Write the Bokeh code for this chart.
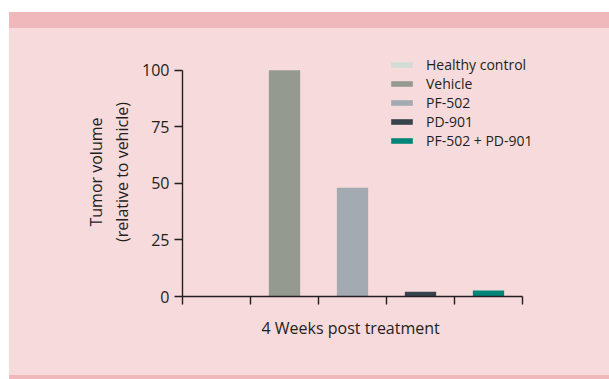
from bokeh.plotting import figure
from bokeh.models import ColumnDataSource, FixedTicker, Div, Title
from bokeh.layouts import column
from bokeh.embed import file_html
from bokeh.resources import INLINE

groups = ["Healthy control", "Vehicle", "PF-502", "PD-901", "PF-502 + PD-901"]
values = [0, 100, 48, 2.1, 2.6]
colors = ["#d3dbd6", "#959a90", "#a3aab1", "#37444c", "#008577"]
y_ticks = [0, 25, 50, 75, 100]
x_label = "4 Weeks post treatment"
y_label = "Tumor volume\n(relative to vehicle)"

BG = "#f7dadc"
BAND = "#f0b8bb"
INK = "#231f20"
FONT = "Open Sans"

header = Div(text="", width=600, height=16, margin=0, styles={"background-color": BAND})
footer = Div(text="", width=600, height=4, margin=0, styles={"background-color": BAND})

src = ColumnDataSource(dict(x=[i + 0.5 for i in range(len(groups))], top=values,
                            color=colors, group=groups))

n = len(groups)
p = figure(width=600, height=347, x_range=(0, n + 0.5), y_range=(0, 110),
           output_backend="svg", toolbar_location=None, margin=0,
           min_border_left=173, min_border_right=53, min_border_top=19, min_border_bottom=79,
           background_fill_color=None, border_fill_color=None, outline_line_color=None,
           styles={"background-color": BG})
p.grid.visible = False
p.vbar(x="x", top="top", width=0.46, bottom=0, color="color", line_color=None,
       source=src, legend_field="group")

for ax in (p.xaxis[0], p.yaxis[0]):
    ax.axis_line_color = INK
    ax.axis_line_width = 1.4
    ax.major_tick_line_color = INK
    ax.major_tick_line_width = 1.4
    ax.major_tick_out = 8
    ax.major_tick_in = 0
    ax.minor_tick_out = 0
    ax.minor_tick_in = 0
    ax.major_label_text_font = FONT
    ax.major_label_text_font_size = "16px"
    ax.major_label_text_color = INK
    ax.axis_label_text_font = FONT
    ax.axis_label_text_font_size = "16px"
    ax.axis_label_text_font_style = "normal"
    ax.axis_label_text_color = INK

p.xaxis.ticker = FixedTicker(ticks=list(range(n + 1)))
p.xaxis.bounds = (0, n)
p.xaxis.major_label_overrides = {i: "" for i in range(n + 1)}

# x-axis title, centred under the axis bounds (the frame is wider for the legend)
xt = Title(text=x_label, align="left", offset=79, standoff=21,
           text_font=FONT, text_font_size="16px", text_font_style="normal",
           text_color=INK)
p.add_layout(xt, "below")

p.yaxis.ticker = FixedTicker(ticks=y_ticks)
p.yaxis.bounds = (0, 100)
p.yaxis.major_label_standoff = 5
p.yaxis.axis_label = y_label
p.yaxis.axis_label_standoff = 6

lg = p.legend[0]
lg.location = (206, 146)
lg.background_fill_alpha = 0
lg.border_line_color = None
lg.padding = 0
lg.margin = 0
lg.spacing = 0
lg.glyph_width = 27
lg.glyph_height = 7
lg.label_height = 16
lg.label_standoff = 11
lg.label_text_font = FONT
lg.label_text_font_size = "14px"
lg.label_text_color = INK

layout = column(header, p, footer, spacing=0, margin=(12, 0, 0, 9))
open("out.html", "w").write(file_html(layout, INLINE))
